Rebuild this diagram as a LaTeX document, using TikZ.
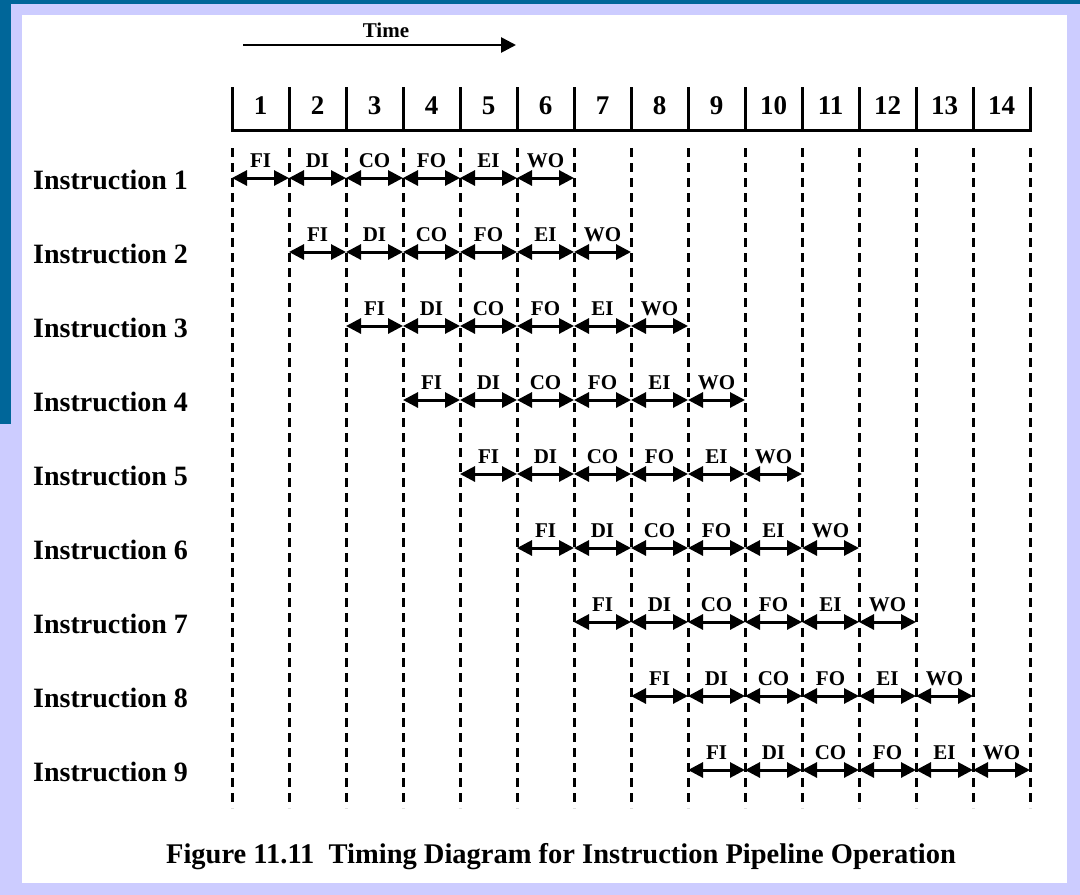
\documentclass[tikz,border=0pt]{standalone}
\usepackage{fontspec}
\setmainfont{Liberation Serif}
\usetikzlibrary{arrows.meta,positioning}
\definecolor{slideblue}{RGB}{0,102,153}
\definecolor{slidelilac}{RGB}{204,204,255}
\tikzset{clockline/.style={line width=3pt,dash pattern=on 9pt off 6pt},
        headerline/.style={line width=3pt,line cap=rect},
        stagearrow/.style={line width=3pt,
                           {Triangle[length=15pt,width=15pt]}-{Triangle[length=15pt,width=15pt]}},
        timearrow/.style={line width=2.7pt,-{Triangle[length=15pt,width=15pt]}},
        stagelabel/.style={font=\fontsize{21}{22}\selectfont\bfseries,inner sep=0pt},
        cyclenum/.style={font=\fontsize{27}{28}\selectfont\bfseries,inner sep=0pt},
        instrlabel/.style={font=\fontsize{28}{30}\selectfont\bfseries,anchor=west,inner sep=0pt},
        }

\begin{document}
\begin{tikzpicture}[x=1pt,y=-1pt]
    % slide frame
    \fill[slidelilac] (0,0) rectangle (1080,895);
    \fill[slideblue] (0,0) rectangle (1080,4);
    \fill[slideblue] (0,0) rectangle (11,424);
    \fill[white] (22,15) rectangle (1067,883);
    \useasboundingbox (0,0) rectangle (1080,895);

    % time arrow
    \coordinate (tstart) at (243,45);
    \coordinate (tend) at (516,45);
    \draw[timearrow] (tstart) -- (tend);
    \node[stagelabel] (time) at (386,30) {Time};

    % clock cycles
    \foreach \j in {0,...,14}{
        \coordinate (tick\j) at (232+57*\j,88);
        \coordinate (base\j) at (232+57*\j,130);
        \coordinate (ctop\j) at (232+57*\j,148);
        \coordinate (cbot\j) at (232+57*\j,808);
        \draw[clockline] (ctop\j) -- (cbot\j);
    }
    \draw[headerline] (tick0) -- (base0) -- (base14) -- (tick14);
    \foreach \j in {1,...,13}
        \draw[headerline] (tick\j) -- (base\j);
    \foreach \k in {1,...,14}
        \node[cyclenum] (num\k) at (260.5+57*\k-57,106) {\k};

    % instructions
    \foreach \i in {1,...,9}{
        \pgfmathsetmacro\ry{178+74*(\i-1)}
        \node[instrlabel] (instr\i) at (33,\ry+2) {Instruction \i};
        \foreach \s [count=\k from 0] in {FI,DI,CO,FO,EI,WO}{
            \pgfmathtruncatemacro\c{\i-1+\k}
            \coordinate (s\i-\k) at (232+57*\c,\ry);
            \coordinate (e\i-\k) at (289+57*\c,\ry);
            \draw[stagearrow] (s\i-\k) -- (e\i-\k);
            \node[stagelabel] (lab\i-\k) at (260.5+57*\c,\ry-17) {\s};
        }
    }

    \node[cyclenum,font=\fontsize{28.5}{30}\selectfont\bfseries] (caption) at (561,857)
        {Figure 11.11\ \ Timing Diagram for Instruction Pipeline Operation};
\end{tikzpicture}
\end{document}
